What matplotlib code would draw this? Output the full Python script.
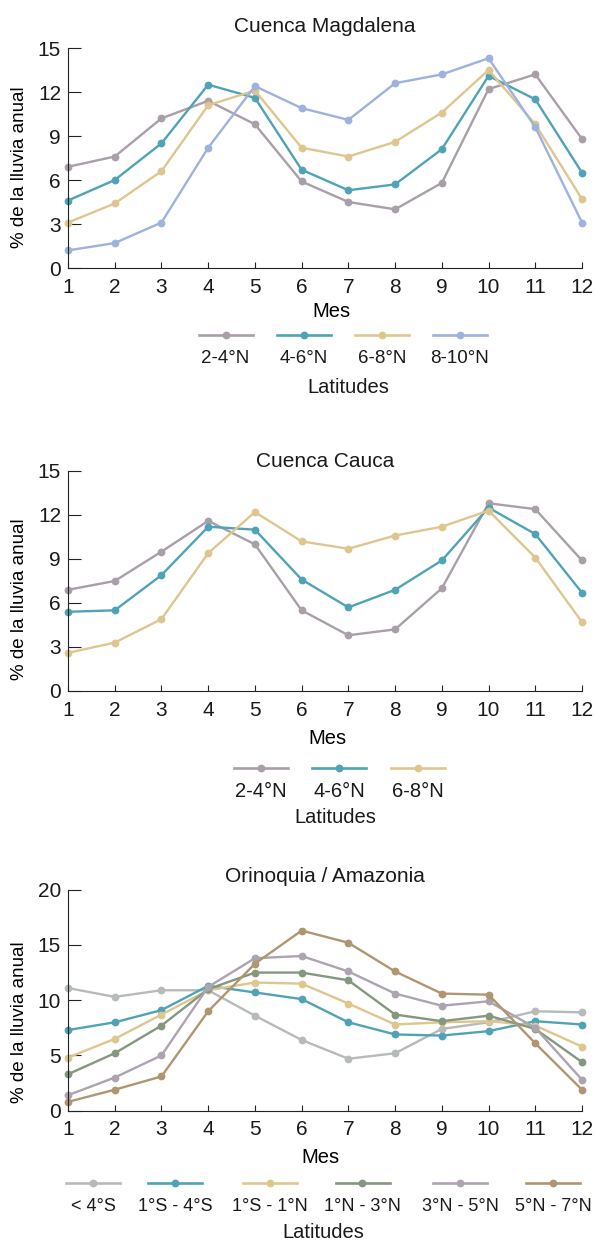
import numpy as np
import matplotlib.pyplot as plt
from matplotlib.lines import Line2D

plt.rcParams['font.family'] = ['Liberation Sans', 'DejaVu Sans']
plt.rcParams['text.color'] = '#1a1a1a'

meses = list(range(1, 13))

# Cuenca Magdalena
mag_labels = ['2-4°N', '4-6°N', '6-8°N', '8-10°N']
mag_2_4 = [6.9, 7.6, 10.2, 11.4, 9.8, 5.9, 4.5, 4.0, 5.8, 12.2, 13.2, 8.8]
mag_4_6 = [4.6, 6.0, 8.5, 12.5, 11.6, 6.7, 5.3, 5.7, 8.1, 13.1, 11.5, 6.5]
mag_6_8 = [3.1, 4.4, 6.6, 11.1, 12.1, 8.2, 7.6, 8.6, 10.6, 13.5, 9.8, 4.7]
mag_8_10 = [1.2, 1.7, 3.1, 8.2, 12.4, 10.9, 10.1, 12.6, 13.2, 14.3, 9.6, 3.1]

# Cuenca Cauca
cau_labels = ['2-4°N', '4-6°N', '6-8°N']
cau_2_4 = [6.9, 7.5, 9.5, 11.6, 10.0, 5.5, 3.8, 4.2, 7.0, 12.8, 12.4, 8.9]
cau_4_6 = [5.4, 5.5, 7.9, 11.2, 11.0, 7.6, 5.7, 6.9, 8.9, 12.5, 10.7, 6.7]
cau_6_8 = [2.6, 3.3, 4.9, 9.4, 12.2, 10.2, 9.7, 10.6, 11.2, 12.3, 9.1, 4.7]

# Orinoquia / Amazonia
ori_labels = ['< 4°S', '1°S - 4°S', '1°S - 1°N', '1°N - 3°N', '3°N - 5°N', '5°N - 7°N']
ori_s4 = [11.1, 10.3, 10.9, 10.9, 8.6, 6.4, 4.7, 5.2, 7.4, 8.0, 9.0, 8.9]
ori_s1_s4 = [7.3, 8.0, 9.1, 11.3, 10.7, 10.1, 8.0, 6.9, 6.8, 7.2, 8.1, 7.8]
ori_s1_n1 = [4.8, 6.5, 8.7, 10.9, 11.6, 11.5, 9.7, 7.8, 8.0, 8.1, 7.7, 5.8]
ori_n1_n3 = [3.3, 5.2, 7.7, 11.0, 12.5, 12.5, 11.8, 8.7, 8.1, 8.6, 7.4, 4.4]
ori_n3_n5 = [1.4, 3.0, 5.0, 11.2, 13.8, 14.0, 12.6, 10.6, 9.5, 9.9, 7.5, 2.8]
ori_n5_n7 = [0.8, 1.9, 3.1, 9.0, 13.3, 16.3, 15.2, 12.6, 10.6, 10.5, 6.1, 1.9]

gris = '#a99fa9'
teal = '#4fa3b6'
arena = '#dfc68f'
azul = '#9db2dd'
gris_claro = '#b6bbb8'
verde = '#84977f'
malva = '#ada3b1'
cafe = '#af9671'

W, H = 595, 1243


def fx(x):
    return x / W


def fy(y):
    return 1 - y / H


def panel(ax, series, colores, titulo, ymax, paso, tpad, xl, yl):
    for vals, c in zip(series, colores):
        ax.plot(meses, vals, color=c, lw=1.7, marker='o', ms=4.6, clip_on=False)
    ax.set_xlim(1, 12)
    ax.set_ylim(0, ymax)
    ax.set_xticks(meses)
    ax.set_yticks(np.arange(0, ymax + 1, paso))
    for s in ['top', 'right']:
        ax.spines[s].set_visible(False)
    for s in ['left', 'bottom']:
        ax.spines[s].set_color('#222222')
        ax.spines[s].set_linewidth(0.8)
    ax.tick_params(axis='y', direction='in', length=9, width=0.8, pad=5,
                   labelsize=15, color='#222222', labelcolor='#1a1a1a')
    ax.tick_params(axis='x', direction='in', length=4.5, width=0.8, pad=7,
                   labelsize=15, color='#222222', labelcolor='#1a1a1a')
    ax.set_title(titulo, fontsize=15, pad=tpad)
    ax.set_xlabel('Mes', fontsize=14.5, va='baseline')
    ax.xaxis.set_label_coords(xl[0], xl[1])
    ax.set_ylabel('% de la lluvia anual', fontsize=13.5, va='center')
    ax.yaxis.set_label_coords(-0.0953, yl)


def leyenda(fig, labels, colores, centros, y_linea, y_texto, fs, x_lat, y_lat):
    for lab, c, xc in zip(labels, colores, centros):
        fig.add_artist(Line2D([fx(xc - 27), fx(xc + 27)], [fy(y_linea)] * 2,
                              transform=fig.transFigure, color=c, lw=1.9))
        fig.add_artist(Line2D([fx(xc)], [fy(y_linea)], transform=fig.transFigure,
                              color=c, marker='o', ms=4.6))
        fig.text(fx(xc), fy(y_texto), lab, ha='center', va='baseline', fontsize=fs)
    fig.text(fx(x_lat), fy(y_lat), 'Latitudes', ha='center', va='baseline', fontsize=14.5)


fig = plt.figure(figsize=(5.95, 12.43), dpi=100)

ax1 = fig.add_axes([fx(68), fy(268), 514 / W, 220 / H])
ax2 = fig.add_axes([fx(68), fy(691), 514 / W, 220 / H])
ax3 = fig.add_axes([fx(68), fy(1110.7), 514 / W, 221 / H])

col1 = [gris, teal, arena, azul]
panel(ax1, [mag_2_4, mag_4_6, mag_6_8, mag_8_10], col1, 'Cuenca Magdalena',
      15, 3, 11.7, (0.513, -0.2227), 0.459)
leyenda(fig, mag_labels, col1, [225.5, 303.5, 382, 459.5], 335, 363, 13.5, 348, 393)

col2 = [gris, teal, arena]
panel(ax2, [cau_2_4, cau_4_6, cau_6_8], col2, 'Cuenca Cauca',
      15, 3, 3, (0.504, -0.241), 0.418)
leyenda(fig, cau_labels, col2, [260.5, 339, 418], 768, 797, 14.5, 335.5, 823)

col3 = [gris_claro, teal, arena, verde, malva, cafe]
panel(ax3, [ori_s4, ori_s1_s4, ori_s1_n1, ori_n1_n3, ori_n3_n5, ori_n5_n7], col3,
      'Orinoquia / Amazonia', 20, 5, 5.8, (0.492, -0.237), 0.401)
leyenda(fig, ori_labels, col3, [93, 175, 269.5, 362.5, 460, 553], 1183, 1210.7, 13,
        323, 1238.5)

fig.savefig('out.png', dpi=100)
